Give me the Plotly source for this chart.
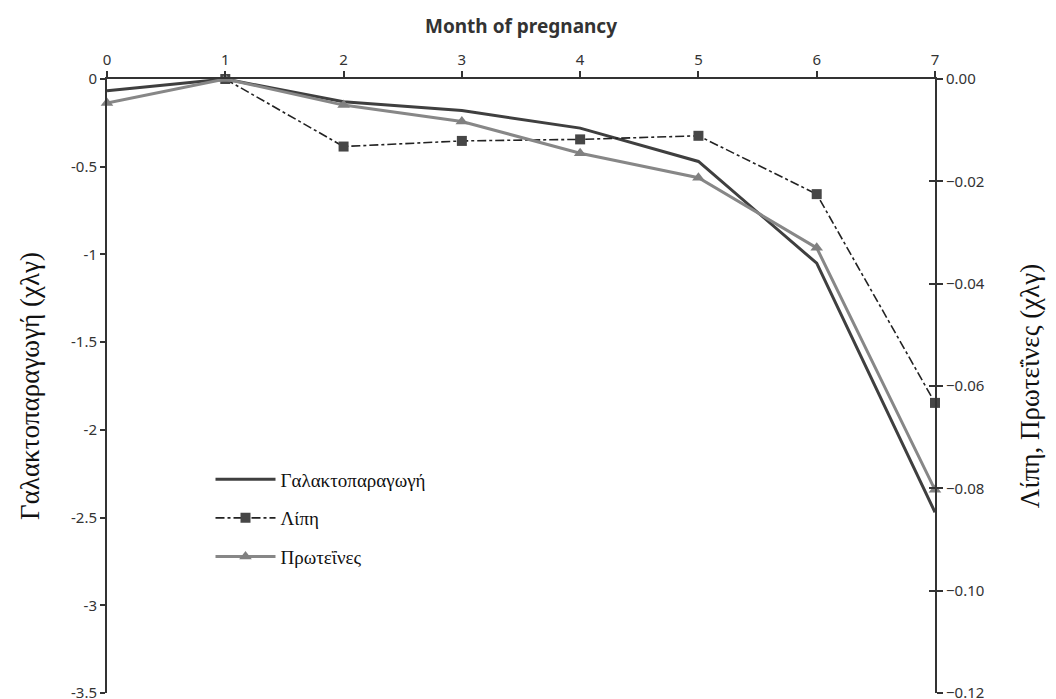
import plotly.graph_objects as go

# Month of pregnancy
months = [0, 1, 2, 3, 4, 5, 6, 7]
months_fat = [1, 2, 3, 4, 5, 6, 7]

# Milk yield change (kg) - left axis
milk = [-0.067, 0.0, -0.13, -0.18, -0.28, -0.47, -1.05, -2.47]
# Fat change (kg) - right axis
fat = [0.0, -0.0132, -0.0121, -0.0118, -0.0111, -0.0225, -0.0633]
# Protein change (kg) - right axis
protein = [-0.0047, 0.0, -0.0051, -0.0083, -0.0145, -0.0193, -0.0330, -0.0803]

left_ticks = [0, -0.5, -1, -1.5, -2, -2.5, -3, -3.5]
left_labels = ["0", "-0.5", "-1", "-1.5", "-2", "-2.5", "-3", "-3.5"]
right_ticks = [0, -0.02, -0.04, -0.06, -0.08, -0.10, -0.12]

tick_font = dict(family="Noto Sans, Open Sans, sans-serif", size=15, color="#333333")
serif = "Liberation Serif, Times New Roman, serif"

fig = go.Figure()

fig.add_trace(go.Scatter(
    x=months, y=milk, name="Γαλακτοπαραγωγή", mode="lines",
    line=dict(color="#3f3f3f", width=3), yaxis="y", cliponaxis=False,
    legendgroup="a",
))
fig.add_trace(go.Scatter(
    x=months_fat, y=fat, name="Λίπη", mode="lines+markers",
    line=dict(color="#222222", width=1.6, dash="dashdot"),
    marker=dict(symbol="square", size=10, color="#464646"),
    yaxis="y2", cliponaxis=False, legendgroup="b",
))
fig.add_trace(go.Scatter(
    x=months, y=protein, name="Πρωτεΐνες", mode="lines+markers",
    line=dict(color="#878787", width=3),
    marker=dict(symbol="triangle-up", size=11, color="#808080"),
    yaxis="y2", cliponaxis=False, legendgroup="c",
))

fig.update_layout(
    width=1056, height=699,
    margin=dict(l=107, r=121, t=79, b=6),
    paper_bgcolor="white", plot_bgcolor="white",
    showlegend=True,
    legend=dict(
        x=0.125, y=0.379, xanchor="left", yanchor="top",
        font=dict(family=serif, size=19, color="#111111"),
        bgcolor="rgba(0,0,0,0)", tracegroupgap=11, itemwidth=60,
    ),
    xaxis=dict(
        side="top", range=[0, 7], tickvals=months,
        showline=True, linecolor="#333333", linewidth=2,
        ticks="outside", ticklen=6, tickcolor="#333333", tickwidth=1.5,
        tickfont=tick_font, showgrid=False, zeroline=False,
        automargin=False,
        title=dict(text="<b>Month of pregnancy</b>",
                   font=dict(family="Noto Sans, Open Sans, sans-serif", size=19, color="#333333"),
                   standoff=10),
        anchor="y",
    ),
    yaxis=dict(
        range=[-3.5, 0], tickvals=left_ticks, ticktext=left_labels,
        showline=True, linecolor="#333333", linewidth=2,
        ticks="outside", ticklen=5, tickcolor="#333333", tickwidth=1.5,
        tickfont=tick_font, showgrid=False, zeroline=False,
        ticklabeloverflow="allow", automargin=False,
        title=dict(text="Γαλακτοπαραγωγή (χλγ)",
                   font=dict(family=serif, size=27, color="#111111"),
                   standoff=24),
    ),
    yaxis2=dict(
        range=[-0.12, 0], tickvals=right_ticks, tickformat=".2f",
        overlaying="y", side="right", anchor="x",
        showline=True, linecolor="#333333", linewidth=2,
        ticks="outside", ticklen=6, tickcolor="#333333", tickwidth=1.5,
        tickfont=tick_font, showgrid=False, zeroline=False,
        ticklabeloverflow="allow", automargin=False,
        title=dict(text="Λίπη, Πρωτεΐνες (χλγ)",
                   font=dict(family=serif, size=27, color="#111111"),
                   standoff=36),
    ),
    yaxis3=dict(
        range=[-0.12, 0], tickvals=right_ticks, overlaying="y", side="right",
        anchor="x", showline=False, ticks="inside", ticklen=6,
        tickcolor="#333333", tickwidth=1.5, showticklabels=False,
        showgrid=False, zeroline=False, automargin=False,
    ),
)

# invisible trace to attach the inner tick marks of the right axis
fig.add_trace(go.Scatter(x=[None], y=[None], yaxis="y3", showlegend=False, hoverinfo="skip"))

fig.write_html("out.html")
